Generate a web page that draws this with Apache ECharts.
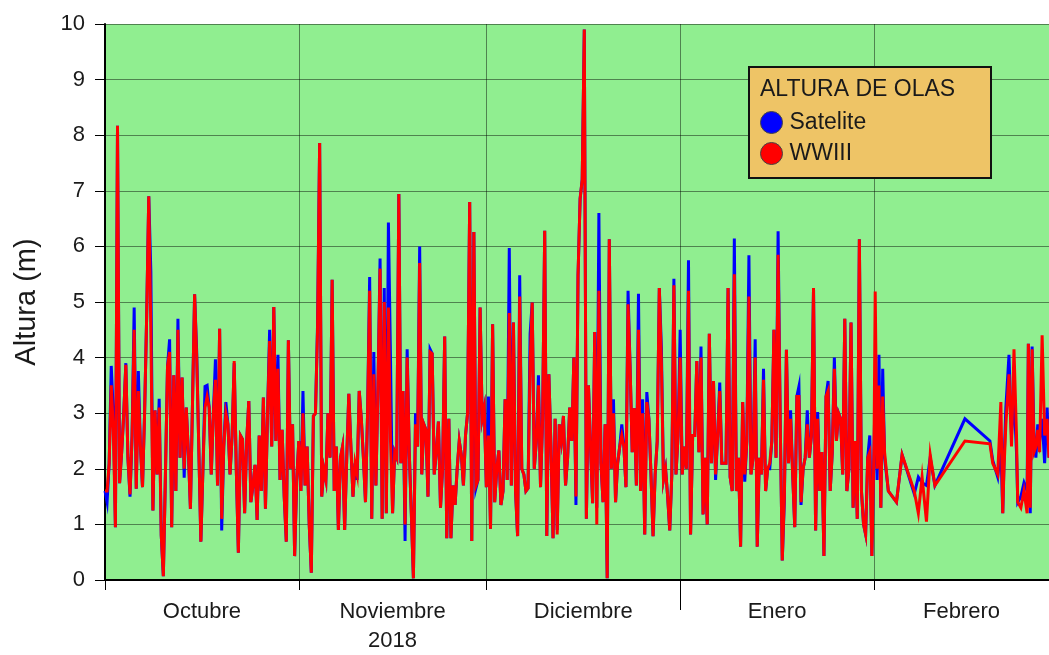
<!DOCTYPE html>
<html>
<head>
<meta charset="utf-8">
<script src="https://cdn.jsdelivr.net/npm/echarts@6/dist/echarts.min.js"></script>
<style>
html,body{margin:0;padding:0;background:#fff;}
#chart{width:1049px;height:655px;}
</style>
</head>
<body>
<div id="chart"></div>
<script>
// Day offsets (days since 1 Oct 2018) of the month starts and axis text
const monthStartDays = [0, 31, 61, 92, 123, 151];
const monthNames = ['Octubre', 'Noviembre', 'Diciembre', 'Enero', 'Febrero'];
const yearLabel = '2018';
const yTicks = [0,1,2,3,4,5,6,7,8,9,10];
const seriesNames = ['Satelite', 'WWIII'];
const legendTitle = 'ALTURA DE OLAS';

// Significant wave height (m), three records per day (00,08,16 h) Oct-Jan
const wwOct = [1.6,1.6,2.1,3.5,2.7,0.95,8.17,1.74,2.3,3.0,3.87,2.2,1.54,2.6,4.5,1.64,3.4,2.4,1.67,3.0,4.76,6.9,4.5,1.25,3.05,1.9,3.1,0.8,0.07,1.9,3.84,4.1,0.95,3.68,1.6,4.5,2.2,3.64,2.0,3.1,2.3,1.28,3.2,5.14,4.0,2.4,0.69,2.0,3.1,3.3,3.1,1.9,3.0,3.6,1.7,4.52,1.1,2.4,3.0,2.8,1.9,2.6,3.94,2.0,0.49,2.6,2.53,1.2,2.5,3.22,1.4,1.7,2.07,1.08,2.6,1.6,3.28,1.28,3.0,4.3,2.4,4.91,2.5,3.8,1.8,2.7,1.5,0.69,4.31,2.0,2.8,0.43,1.8];
const satOct = [1.6,1.4,2.1,3.85,3.0,0.95,8.17,1.74,2.3,3.0,3.9,2.2,1.5,2.6,4.9,1.64,3.76,2.4,1.67,3.0,4.76,6.9,5.55,1.25,3.05,1.9,3.26,0.8,0.07,1.9,3.84,4.33,0.95,3.68,1.6,4.7,2.2,3.64,1.84,3.1,2.3,1.28,3.2,5.14,4.1,2.4,0.69,2.0,3.48,3.5,3.1,1.9,3.0,3.97,1.7,4.52,0.89,2.4,3.2,2.8,1.9,2.6,3.9,2.0,0.49,2.6,2.53,1.2,2.5,3.22,1.4,1.7,2.07,1.08,2.6,1.6,3.28,1.28,3.0,4.5,2.4,4.91,2.5,4.05,1.8,2.7,1.5,0.69,4.31,2.0,2.8,0.43,1.8];

const wwNov = [2.5,1.6,3.0,1.7,2.4,1.0,0.13,2.95,3.0,4.5,7.86,1.5,2.0,1.8,3.0,2.2,5.4,1.6,2.4,0.9,2.2,2.4,0.9,2.2,3.35,2.4,1.5,2.1,1.9,3.4,2.9,2.2,1.4,3.0,5.2,1.1,3.7,1.7,3.5,5.6,1.1,5.0,1.2,4.9,2.5,1.2,2.3,2.2,6.94,2.1,3.4,1.0,4.0,2.3,1.2,0.03,2.8,2.4,5.7,1.9,2.8,2.7,1.5,4.1,4.07,1.9,2.3,2.85,1.3,2.0,4.38,0.75,2.9,0.75,1.7,1.35,2.0,2.5,2.25,1.7,2.6,3.0,6.8,0.7,6.26,1.7,1.8,4.9,2.9,3.1];
const satNov = [2.5,1.6,3.4,1.7,2.4,1.0,0.13,2.95,3.0,4.6,7.86,1.5,2.0,1.8,3.0,2.2,5.4,1.6,2.4,0.9,2.2,2.4,0.9,2.2,3.35,2.4,1.5,2.1,1.8,3.4,2.9,2.2,1.4,3.0,5.45,1.1,4.1,1.7,3.5,5.78,1.1,5.25,1.2,6.43,4.0,1.2,2.3,2.2,6.94,2.1,3.4,0.7,4.15,2.3,1.2,0.03,3.0,2.4,6.0,1.9,2.8,2.7,1.5,4.15,4.07,1.9,2.3,2.85,1.3,2.0,4.38,0.75,2.9,0.75,1.7,1.35,2.0,2.5,2.25,1.7,2.6,3.0,6.8,0.7,6.26,1.65,1.8,4.9,2.9,3.1];

const wwDec = [1.67,2.6,0.92,4.6,1.4,2.0,2.33,1.35,1.6,3.25,1.8,4.8,1.7,4.63,1.6,0.79,5.1,2.0,1.9,1.6,1.65,3.9,4.99,2.0,2.5,3.5,1.67,2.9,6.28,0.79,3.7,2.4,0.75,2.9,0.82,2.8,2.5,2.95,1.7,2.2,3.1,2.5,4.0,1.5,5.48,6.86,7.2,9.9,1.1,3.5,2.4,1.38,4.46,1.0,5.2,2.1,1.4,2.8,0.03,6.13,2.0,3.0,1.4,2.1,2.4,2.6,2.4,1.67,4.96,3.8,2.3,3.09,1.7,4.5,1.6,3.0,0.82,3.2,2.9,1.9,0.79,1.9,2.5,5.25,3.9,1.8,2.0,1.5,0.89,1.9,5.3,1.9,2.6];
const satDec = [1.67,3.3,0.92,4.6,1.4,2.0,2.33,1.35,1.6,3.25,1.8,5.97,1.7,4.63,1.6,0.79,5.48,2.0,1.9,1.6,1.65,4.43,4.99,2.0,2.5,3.68,1.67,2.9,6.28,0.79,3.7,2.4,0.75,2.9,0.9,2.8,2.5,2.95,1.7,2.2,3.1,2.5,4.0,1.35,5.48,6.86,7.2,9.9,1.1,3.5,2.4,1.38,4.46,1.3,6.6,2.1,1.4,2.8,0.03,6.13,2.0,3.25,1.4,2.1,2.4,2.8,2.4,1.67,5.2,3.8,2.3,3.09,1.7,5.15,1.6,3.25,0.82,3.38,2.9,1.9,0.79,1.9,2.5,5.25,4.17,1.8,2.0,1.5,0.89,1.9,5.42,1.9,2.6];

const wwJan = [4.0,1.9,2.4,2.0,5.2,0.82,2.6,2.6,3.94,2.3,4.0,1.18,2.2,1.0,4.43,2.1,3.58,1.9,2.6,3.4,2.1,2.1,2.1,5.25,1.85,1.6,5.5,1.6,2.2,0.6,3.2,1.9,2.5,5.1,1.9,2.2,4.0,0.6,2.2,1.9,3.6,1.6,2.0,2.1,2.5,4.5,2.2,5.85,2.9,0.35,1.5,4.14,2.1,2.9,1.9,0.95,3.3,3.3,1.4,2.0,2.2,2.8,2.2,2.6,5.25,0.89,2.9,1.6,2.3,0.43,3.3,3.4,1.6,2.3,3.8,2.5,3.0,2.9,1.9,4.7,1.6,2.0,4.63,1.3,2.5,1.1,6.13,1.6,1.0,0.82,2.2,2.3,0.43];
const satJan = [4.5,1.9,2.4,2.0,5.75,0.82,2.6,2.6,3.94,2.3,4.2,1.18,2.2,1.0,4.43,2.1,3.58,1.8,2.6,3.55,2.1,2.1,2.1,5.25,1.85,1.6,6.14,1.6,2.2,0.6,3.2,1.77,2.5,5.84,1.9,2.2,4.33,0.6,2.2,1.9,3.8,1.6,2.0,2.0,2.5,4.5,2.2,6.27,2.9,0.35,1.41,4.14,2.1,3.05,1.9,0.95,3.3,3.48,1.35,2.0,2.2,3.05,2.2,2.6,5.25,0.89,3.02,1.6,2.3,0.43,3.3,3.58,1.6,2.3,4.0,2.5,3.0,2.9,1.9,4.7,1.6,2.0,4.63,1.3,2.5,1.1,6.13,1.6,1.0,0.82,2.2,2.6,0.43];

// February records (irregular times, days since 1 Oct 2018)
const febDays = [123.0,123.2,123.5,123.8,124.1,124.4,124.7,125.3,126.6,127.5,129.45,130.1,130.7,131.4,132.0,132.75,137.55,141.55,142.0,142.8,143.3,143.6,143.8,144.1,144.6,145.0,145.4,145.8,146.0,146.5,147.0,147.5,147.7,148.0,148.3,148.6,148.9,149.2,149.5,149.9,150.3,150.7,151.0];
const febSat = [2.3,3.5,1.8,4.05,1.3,3.8,2.2,1.6,1.4,2.25,1.55,1.85,1.75,1.7,2.2,1.7,2.9,2.5,2.15,1.85,2.4,1.2,2.1,3.1,4.05,2.6,3.3,2.3,1.4,1.5,1.75,1.6,4.25,1.2,4.2,2.5,2.2,2.8,2.5,2.9,2.1,3.1,2.2];
const febWW = [2.3,5.19,2.0,3.5,1.3,3.3,2.3,1.6,1.4,2.25,1.6,1.2,1.85,1.05,2.25,1.7,2.5,2.45,2.1,1.9,3.2,1.2,2.0,2.8,3.7,2.4,4.15,2.6,1.4,1.3,1.6,1.2,4.25,1.3,4.15,2.3,2.4,2.7,2.3,4.4,2.6,2.9,2.2];

const RECORDS_PER_DAY = 3;
function sampled(startDay, vals) {
  return vals.map((v, i) => [startDay + i / RECORDS_PER_DAY, v]);
}
function buildSeries(oct, nov, dec, jan, feb) {
  return [].concat(
    sampled(monthStartDays[0], oct),
    sampled(monthStartDays[1], nov),
    sampled(monthStartDays[2], dec),
    sampled(monthStartDays[3], jan),
    febDays.map((d, i) => [d, feb[i]])
  );
}
const satData = buildSeries(satOct, satNov, satDec, satJan, febSat);
const wwData = buildSeries(wwOct, wwNov, wwDec, wwJan, febWW);

const monthMids = monthNames.map((_, i) => (monthStartDays[i] + monthStartDays[i + 1]) / 2);
const FONT = "'Liberation Sans', Arial, Helvetica, sans-serif";

const chart = echarts.init(document.getElementById('chart'), null, {renderer: 'canvas'});
chart.setOption({
  animation: false,
  backgroundColor: '#ffffff',
  textStyle: {fontFamily: FONT},
  grid: {
    left: 105, right: 0, top: 24, bottom: 69,
    show: true, backgroundColor: '#90EE90', borderWidth: 0
  },
  title: {
    text: legendTitle,
    left: 760, top: 78, padding: 0, z: 60,
    textStyle: {fontFamily: FONT, fontSize: 23, fontWeight: 'normal', color: '#1a1a1a'}
  },
  legend: {
    data: seriesNames,
    orient: 'vertical',
    left: 760, top: 111, padding: 0, z: 60,
    icon: 'circle', itemWidth: 22, itemHeight: 22, itemGap: 8,
    itemStyle: {borderColor: '#444', borderWidth: 1},
    textStyle: {fontFamily: FONT, fontSize: 23, color: '#1a1a1a', padding: [0,0,0,2]}
  },
  graphic: [{
    type: 'rect', left: 748, top: 66, z: 50,
    shape: {width: 242, height: 111},
    style: {fill: '#EEC466', stroke: '#111', lineWidth: 2}
  }],
  xAxis: [{
    type: 'value', min: monthStartDays[0], max: monthStartDays[monthStartDays.length - 1],
    position: 'bottom',
    axisLine: {show: true, onZero: false, lineStyle: {color: '#000', width: 2}},
    axisTick: {show: true, customValues: monthStartDays, length: 10, lineStyle: {color: '#000', width: 1}},
    axisLabel: {
      customValues: monthMids,
      margin: 17,
      fontFamily: FONT, fontSize: 22, color: '#1a1a1a', lineHeight: 29,
      formatter: function (v) {
        const i = monthMids.findIndex(m => Math.abs(m - v) < 0.01);
        if (i < 0) return '';
        return i === 1 ? monthNames[i] + '\n' + yearLabel : monthNames[i];
      }
    },
    splitLine: {show: true, lineStyle: {color: 'rgba(0,0,0,0.45)', width: 1}}
  }, {
    type: 'value', min: monthStartDays[0], max: monthStartDays[monthStartDays.length - 1],
    position: 'bottom',
    axisLine: {show: false},
    axisTick: {show: true, customValues: [monthStartDays[3]], length: 30, lineStyle: {color: '#000', width: 1}},
    axisLabel: {show: false},
    splitLine: {show: false}
  }],
  yAxis: {
    type: 'value', min: yTicks[0], max: yTicks[yTicks.length - 1], interval: 1,
    name: 'Altura (m)', nameLocation: 'middle', nameGap: 64, nameRotate: 90,
    nameTextStyle: {fontFamily: FONT, fontSize: 29, color: '#1a1a1a'},
    axisLine: {show: true, lineStyle: {color: '#000', width: 2}},
    axisTick: {show: true, length: 10, lineStyle: {color: '#000', width: 1}},
    axisLabel: {fontFamily: FONT, fontSize: 22, color: '#1a1a1a', margin: 20},
    splitLine: {show: true, lineStyle: {color: 'rgba(0,0,0,0.45)', width: 1}}
  },
  series: [{
    name: seriesNames[0], type: 'line', xAxisIndex: 0, data: satData,
    showSymbol: false, symbol: 'none', z: 2,
    itemStyle: {color: '#0000FF'},
    lineStyle: {color: '#0000FF', width: 3, join: 'miter'}
  }, {
    name: seriesNames[1], type: 'line', xAxisIndex: 0, data: wwData,
    showSymbol: false, symbol: 'none', z: 3,
    itemStyle: {color: '#FF0000'},
    lineStyle: {color: '#FF0000', width: 3, join: 'miter'}
  }]
});
</script>
</body>
</html>
